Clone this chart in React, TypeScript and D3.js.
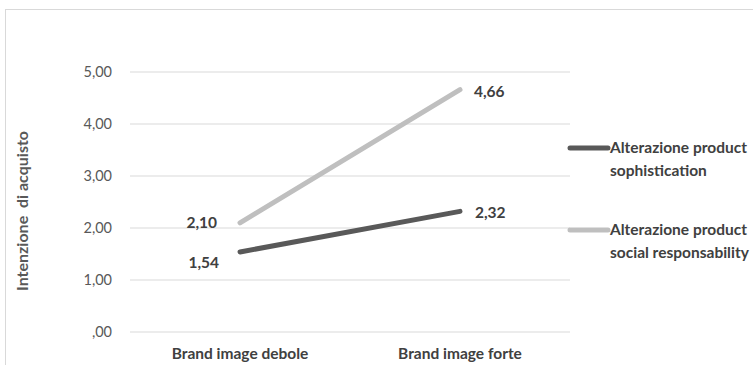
import React from "react";
import * as d3 from "d3";

const categories = ["Brand image debole", "Brand image forte"];
const seriesNames = [
  ["Alterazione product", "sophistication"],
  ["Alterazione product", "social responsability"],
];
const sophistication = [1.54, 2.32];
const socialResp = [2.1, 4.66];
const yTicks = [0, 1, 2, 3, 4, 5];
const colors = ["#595959", "#BFBFBF"];

const fmt = (v: number) => {
  const s = v.toFixed(2).replace(".", ",");
  return s.startsWith("0,") ? s.slice(1) : s;
};

export default function App() {
  const W = 753, H = 365;
  const left = 130, right = 570, top = 72, bottom = 332;
  const x = d3.scaleBand<string>().domain(categories).range([left, right]);
  const y = d3.scaleLinear().domain([0, 5]).range([bottom, top]);
  const cx = (c: string) => (x(c) as number) + x.bandwidth() / 2;
  const line = d3
    .line<number>()
    .x((_, i) => cx(categories[i]))
    .y((d) => y(d));
  const series = [sophistication, socialResp];
  const font = "Lato, 'Open Sans', sans-serif";
  const labelPos = [
    [
      { dx: -21, dy: 11, anchor: "end" },
      { dx: 15, dy: 1, anchor: "start" },
    ],
    [
      { dx: -23, dy: 0, anchor: "end" },
      { dx: 14, dy: 2, anchor: "start" },
    ],
  ];
  const legendY = [148, 230];
  return (
    <svg
      width={W}
      height={H}
      style={{ position: "absolute", left: 0, top: 0, background: "#fff" }}
      fontFamily={font}
    >
      <rect x={5.5} y={9.5} width={800} height={400} fill="#fff" stroke="#D9D9D9" />
      {yTicks.map((t) => (
        <g key={t}>
          <line x1={left} x2={right} y1={y(t)} y2={y(t)} stroke="#D9D9D9" strokeWidth={1} />
          <text x={112} y={y(t)} dy="0.35em" textAnchor="end" fontSize={14.5} fill="#595959">
            {fmt(t)}
          </text>
        </g>
      ))}
      <text
        transform={`translate(28,211) rotate(-90)`}
        textAnchor="middle"
        fontSize={16}
        fontWeight="bold"
        fill="#595959"
        style={{ whiteSpace: "pre" }}
      >
        {"Intenzione  di acquisto"}
      </text>
      {categories.map((c) => (
        <text key={c} x={cx(c)} y={354} dy="0.35em" textAnchor="middle" fontSize={15.5} fontWeight="bold" fill="#404040">
          {c}
        </text>
      ))}
      {series.map((s, si) => (
        <path key={si} d={line(s) as string} fill="none" stroke={colors[si]} strokeWidth={5} strokeLinecap="round" />
      ))}
      {series.map((s, si) =>
        s.map((v, i) => {
          const p = labelPos[si][i];
          return (
            <text
              key={`${si}-${i}`}
              x={cx(categories[i]) + p.dx}
              y={y(v) + p.dy}
              dy="0.35em"
              textAnchor={p.anchor}
              fontSize={15.5}
              fontWeight="bold"
              fill="#404040"
            >
              {fmt(v)}
            </text>
          );
        })
      )}
      {seriesNames.map((n, si) => (
        <g key={si}>
          <line x1={570} x2={608} y1={legendY[si]} y2={legendY[si]} stroke={colors[si]} strokeWidth={5} strokeLinecap="round" />
          <text x={610} y={legendY[si]} dy="0.35em" fontSize={15.5} fontWeight="bold" fill="#404040">
            {n[0]}
          </text>
          <text x={610} y={legendY[si] + 23} dy="0.35em" fontSize={15.5} fontWeight="bold" fill="#404040">
            {n[1]}
          </text>
        </g>
      ))}
    </svg>
  );
}
